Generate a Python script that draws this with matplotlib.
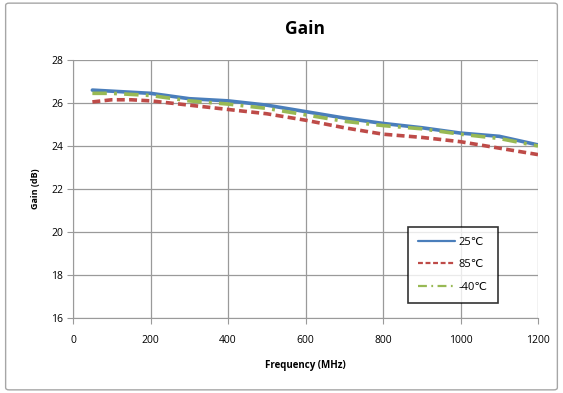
import matplotlib.pyplot as plt
from matplotlib.patches import FancyBboxPatch

# ---- data ----
freq = [50, 100, 150, 200, 300, 400, 500, 600, 700, 800, 900, 1000, 1100, 1200]
gain_25 = [26.6, 26.55, 26.5, 26.45, 26.2, 26.1, 25.9, 25.6, 25.3, 25.05, 24.85, 24.6, 24.45, 24.05]
gain_85 = [26.05, 26.15, 26.15, 26.1, 25.9, 25.7, 25.5, 25.2, 24.85, 24.55, 24.4, 24.2, 23.9, 23.6]
gain_m40 = [26.45, 26.45, 26.4, 26.35, 26.1, 25.95, 25.75, 25.45, 25.15, 24.95, 24.8, 24.55, 24.35, 24.0]
labels = ['25\u2103', '85\u2103', '-40\u2103']

plt.rcParams['font.family'] = ['Open Sans', 'DejaVu Sans']

fig = plt.figure(figsize=(5.63, 3.93), dpi=100)
ax = fig.add_axes([73 / 563, 1 - 318 / 393, 465 / 563, 258 / 393])

# outer chart border
fig.patches.append(FancyBboxPatch((0.01, 0.008), 0.98, 0.984, boxstyle='round,pad=0,rounding_size=0.006',
                                  transform=fig.transFigure, facecolor='none', edgecolor='#a6a6a6', lw=1.0))

ax.plot(freq, gain_25, color='#4a7ebb', lw=2.6, label=labels[0], solid_capstyle='round')
ax.plot(freq, gain_85, color='#be4b48', lw=2.6, ls=(0, (2.2, 1.2)), label=labels[1])
ax.plot(freq, gain_m40, color='#98b954', lw=2.6, ls=(0, (4, 2, 0.8, 2)), label=labels[2])

ax.set_xlim(0, 1200)
ax.set_ylim(16, 28)
ax.set_xticks(range(0, 1201, 200))
ax.set_yticks(range(16, 29, 2))
ax.grid(True, color='#9a9a9a', lw=0.9)
ax.set_axisbelow(True)
for s in ['top', 'right']:
    ax.spines[s].set_visible(False)
for s in ['left', 'bottom']:
    ax.spines[s].set_color('#9a9a9a')
ax.tick_params(axis='both', direction='out', length=4, color='#9a9a9a', labelsize=7.5, pad=8)
ax.tick_params(axis='y', pad=3)

ax.set_title('Gain', fontsize=12.5, fontweight='bold', pad=19)
ax.set_xlabel('Frequency (MHz)', fontsize=7, fontweight='bold', labelpad=10)
ax.set_ylabel('Gain (dB)', fontsize=6.5, fontweight='bold', labelpad=8)

leg = ax.legend(loc='upper left', bbox_to_anchor=(329 / 465, 97 / 258), fontsize=8, frameon=True,
                fancybox=False, edgecolor='black', handlelength=3.4, labelspacing=1.05,
                borderpad=0.9, handletextpad=0.3)
leg.get_frame().set_linewidth(1.2)
for ln in leg.get_lines():
    ln.set_linewidth(1.6)

fig.savefig('out.png', dpi=100)
